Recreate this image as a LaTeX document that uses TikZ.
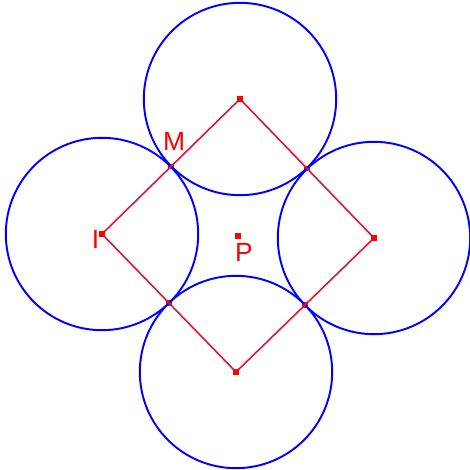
\documentclass[tikz,border=0pt]{standalone}
\usepackage{fontspec}
\setmainfont{Liberation Sans}
\usetikzlibrary{calc}
\definecolor{sqred}{RGB}{220,20,60}
\tikzset{
  ring/.style={draw=blue,line width=1.1pt},
  side/.style={draw=sqred,line width=0.9pt},
  dot/.style={fill=red,inner sep=0pt,minimum size=0.11cm},
  lab/.style={text=red,font=\fontsize{15}{18}\selectfont,inner sep=0pt}
}
\begin{document}
\begin{tikzpicture}[x=0.02cm,y=-0.02cm]
\useasboundingbox (0,0) rectangle (470,470);
\coordinate (A) at (240,99);
\coordinate (B) at (374,238);
\coordinate (C) at (236,372);
\coordinate (I) at (102,234);
\node[dot] (M) at ($(I)!0.5!(A)$) {};
\node[dot] (N) at ($(A)!0.5!(B)$) {};
\node[dot] (Q) at ($(B)!0.5!(C)$) {};
\node[dot] (R) at ($(C)!0.5!(I)$) {};
\foreach \c in {A,B,C,I}
  \draw[ring] (\c) circle (1.924cm);
\draw[side] (I) -- (A) -- (B) -- (C) -- cycle;
\foreach \c in {A,B,C,I}
  \node[dot] at (\c) {};
\node[dot] (P) at (238,236) {};
\node[lab] at (174,141) {M};
\node[lab] at (95.5,239) {I};
\node[lab] at (244,252) {P};
\end{tikzpicture}
\end{document}
